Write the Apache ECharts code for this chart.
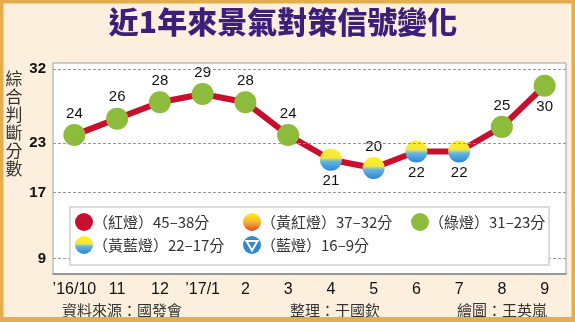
<!DOCTYPE html>
<html><head><meta charset="utf-8">
<script src="https://cdn.jsdelivr.net/npm/echarts@6/dist/echarts.min.js"></script>
<style>html,body{margin:0;padding:0;background:#fcefdd;}#c{width:575px;height:322px;}</style>
</head><body><div id="c"></div>
<script>
// ---- data ----
const categories = ["’16/10","11","12","’17/1","2","3","4","5","6","7","8","9"];
const scores = [24,26,28,29,28,24,21,20,22,22,25,30];
const yTicks = [9,17,23,32];
const legendLabels = ["（紅燈）45–38分","（黃紅燈）37–32分","（綠燈）31–23分","（黃藍燈）22–17分","（藍燈）16–9分"];
const belowIdx = [6,8,9,11];

// ---- styles ----
const FONT_CJK = '"Noto Sans CJK TC","Noto Sans",sans-serif';
const FONT_NUM = '"Liberation Sans",Arial,sans-serif';
const GREEN = '#8dbb3b';
const RED = '#c8102e';
const YB = {type:'linear',x:0,y:0,x2:0,y2:1,colorStops:[
  {offset:0,color:'#fff21a'},{offset:0.42,color:'#f3e640'},{offset:0.58,color:'#63b5e4'},{offset:1,color:'#2a86d6'}]};
const YR = {type:'linear',x:0,y:0,x2:0,y2:1,colorStops:[
  {offset:0,color:'#ffee1a'},{offset:0.5,color:'#f8b531'},{offset:1,color:'#e0492a'}]};
const BLUE = '#2f88d2';

function signalColor(v){
  if (v>=38) return RED;
  if (v>=32) return YR;
  if (v>=23) return GREEN;
  if (v>=17) return YB;
  return BLUE;
}

const seriesData = scores.map((v,i)=>({
  value:v,
  itemStyle:{color:signalColor(v)},
  label:{position: belowIdx.includes(i)?'bottom':'top'}
}));

// legend graphics
const legendItems = [
  {x:84,y:222,color:RED},
  {x:252,y:222,color:YR},
  {x:420,y:222,color:GREEN},
  {x:84,y:245,color:YB},
  {x:252,y:245,color:BLUE,tri:true}
];
const legendGraphics = [
  {type:'rect',shape:{x:70,y:207,width:479,height:58},style:{fill:'#fff',stroke:'#cfcfcf',lineWidth:1.5},z:100}
];
legendItems.forEach((it,i)=>{
  legendGraphics.push({type:'circle',shape:{cx:it.x,cy:it.y,r:9},style:{fill:it.color},z:101});
  if (it.tri) legendGraphics.push({type:'polygon',shape:{points:[[it.x-5.5,it.y-4],[it.x+5.5,it.y-4],[it.x,it.y+5.5]]},style:{fill:'none',stroke:'#fff',lineWidth:2},z:102});
  legendGraphics.push({type:'text',x:it.x+9,y:it.y,style:{text:legendLabels[i],font:'15px '+FONT_CJK,fill:'#333',verticalAlign:'middle',textAlign:'left'},z:101});
});

const chart = echarts.init(document.getElementById('c'),null,{renderer:'canvas'});
chart.setOption({
  backgroundColor:'#fcefdd',
  animation:false,
  grid:{left:53,right:9,top:63,bottom:48,show:true,backgroundColor:'#fff',borderColor:'#a0a0a0',borderWidth:1},
  xAxis:{type:'category',data:categories,boundaryGap:true,
    axisLine:{lineStyle:{color:'#888',width:1.5}},
    axisTick:{alignWithLabel:true,interval:0,length:5,lineStyle:{color:'#888',width:1.5}},
    axisLabel:{interval:0,color:'#111',fontSize:16,fontFamily:FONT_NUM,margin:8}},
  yAxis:{type:'value',min:7.1,max:32.77,
    axisLine:{show:false},axisTick:{show:false},splitLine:{show:false},
    axisLabel:{customValues:yTicks,color:'#111',fontSize:15,fontWeight:'bold',fontFamily:FONT_NUM,margin:7}},
  series:[
    {type:'line',data:scores.map(()=>null),z:1,silent:true,
      markLine:{silent:true,symbol:'none',label:{show:false},
        lineStyle:{color:'#999',type:[3,2],width:1},
        data:yTicks.map(v=>({yAxis:v}))}},
    {type:'line',data:seriesData,z:3,symbol:'circle',symbolSize:22,
      lineStyle:{color:RED,width:6},
      label:{show:true,fontSize:15,color:'#111',fontFamily:FONT_NUM,distance:3}}
  ],
  graphic:[
    {type:'rect',shape:{x:0,y:0,width:575,height:322},style:{fill:'none',stroke:'#e6ae4a',lineWidth:7},z:200},
    {type:'rect',shape:{x:0,y:317,width:575,height:5},style:{fill:'#e6ae4a'},z:200},
    {type:'text',x:283,y:22,style:{text:'近1年來景氣對策信號變化',font:'900 30px '+FONT_CJK,fill:'#3b1f78',textAlign:'center',verticalAlign:'middle'},z:50},
    {type:'text',x:14,y:124,style:{text:'綜\n合\n判\n斷\n分\n數',font:'17px '+FONT_CJK,fill:'#333',textAlign:'center',verticalAlign:'middle',lineHeight:18},z:50},
    {type:'text',x:62,y:310,style:{text:'資料來源：國發會',font:'15px '+FONT_CJK,fill:'#333',verticalAlign:'middle'},z:50},
    {type:'text',x:290,y:310,style:{text:'整理：于國欽',font:'15px '+FONT_CJK,fill:'#333',verticalAlign:'middle'},z:50},
    {type:'text',x:457,y:310,style:{text:'繪圖：王英嵐',font:'15px '+FONT_CJK,fill:'#333',verticalAlign:'middle'},z:50}
  ].concat(legendGraphics)
});
</script></body></html>
